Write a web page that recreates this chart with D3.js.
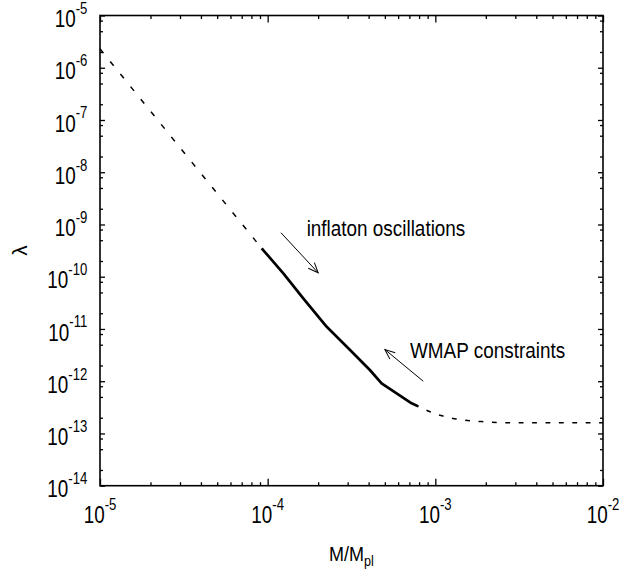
<!DOCTYPE html>
<html><head><meta charset="utf-8">
<script src="https://cdn.jsdelivr.net/npm/d3@7"></script>
<style>body{margin:0;background:#fff}svg{display:block}text{font-family:"Liberation Sans",Arial,sans-serif;fill:#000}</style>
</head><body><svg id="c" width="623" height="576"></svg>
<script>
// ---- data ----
const xDomain = [1e-5, 1e-2];
const yDomain = [1e-14, 1e-5];
const xTickExps = [-5, -4, -3, -2];
const yTickExps = [-14, -13, -12, -11, -10, -9, -8, -7, -6, -5];
const xMinorMult = [2, 3, 4, 5, 6, 7, 8, 9];
const yMinorMult = [2, 5, 8];
// dashed branch at small M
const massLow = [1e-5, 3.14e-5, 9.21e-5];
const lambdaLow = [2.3e-6, 2.47e-8, 3.5e-10];
// solid branch (WMAP constrained)
const massMid = [9.21e-5, 1.24e-4, 1.63e-4, 2.25e-4, 3.10e-4, 4.07e-4, 4.78e-4, 7.22e-4, 7.91e-4];
const lambdaMid = [3.5e-10, 1.16e-10, 3.86e-11, 1.10e-11, 3.95e-12, 1.64e-12, 9.1e-13, 3.78e-13, 3.3e-13];
// dashed branch at large M
const massHigh = [7.91e-4, 9.29e-4, 1.11e-3, 1.34e-3, 1.61e-3, 1.93e-3, 2.79e-3, 5e-3, 1e-2];
const lambdaHigh = [3.3e-13, 2.61e-13, 2.15e-13, 1.89e-13, 1.75e-13, 1.68e-13, 1.60e-13, 1.60e-13, 1.60e-13];
// annotations (data coordinates)
const annTexts = ["inflaton oscillations", "WMAP constraints"];
const annTextPos = [[1.708e-4, 6.09e-10], [7.06e-4, 2.74e-12]];
const annArrowFrom = [[1.2e-4, 6.95e-10], [8.47e-4, 1.0e-12]];
const annArrowTo = [[2.0e-4, 1.19e-10], [5.0e-4, 4.04e-12]];

// ---- chart ----
const svg = d3.select("#c");
const L = 100, R = 603, T = 15.5, B = 485.7;
const x = d3.scaleLog().domain(xDomain).range([L, R]);
const y = d3.scaleLog().domain(yDomain).range([B, T]);

const xMaj = xTickExps.map(e => Math.pow(10, e));
const yMaj = yTickExps.map(e => Math.pow(10, e));
const xMin = [];
xTickExps.slice(0, -1).forEach(e => xMinorMult.forEach(m => xMin.push(m * Math.pow(10, e))));
const yMin = [];
yTickExps.slice(0, -1).forEach(e => yMinorMult.forEach(m => yMin.push(m * Math.pow(10, e))));

function axis(gen, tv, size, tr) {
  const g = svg.append("g").attr("transform", tr)
    .call(gen.tickValues(tv).tickSize(size).tickFormat(""));
  g.select(".domain").remove();
  g.selectAll("line").attr("stroke", "#000").attr("stroke-width", 1.3);
}
axis(d3.axisBottom(x), xMaj, -7, `translate(0,${B})`);
axis(d3.axisBottom(x), xMin, -3.5, `translate(0,${B})`);
axis(d3.axisTop(x), xMaj, -7, `translate(0,${T})`);
axis(d3.axisTop(x), xMin, -3.5, `translate(0,${T})`);
axis(d3.axisLeft(y), yMaj, -5, `translate(${L},0)`);
axis(d3.axisLeft(y), yMin, -3, `translate(${L},0)`);
axis(d3.axisRight(y), yMaj, -5, `translate(${R},0)`);
axis(d3.axisRight(y), yMin, -3, `translate(${R},0)`);

svg.append("rect").attr("x", L).attr("y", T).attr("width", R - L).attr("height", B - T)
  .attr("fill", "none").attr("stroke", "#000").attr("stroke-width", 1.6);

// tick labels
function powLabel(g, e, anchor) {
  const t = g.append("text").attr("text-anchor", anchor);
  t.append("tspan").attr("font-size", 23).text("10");
  t.append("tspan").attr("font-size", 16).attr("dy", -13.3).text(String(e));
}
xTickExps.forEach(e => {
  const g = svg.append("g").attr("transform", `translate(${x(Math.pow(10, e))},${B + 37.6}) scale(0.82,1)`);
  powLabel(g, e, "middle");
});
yTickExps.forEach(e => {
  const g = svg.append("g").attr("transform", `translate(${L - 12.7},${y(Math.pow(10, e)) + 11.6}) scale(0.82,1)`);
  powLabel(g, e, "end");
});

// axis titles
const xt = svg.append("g").attr("transform", `translate(${(L + R) / 2},561) scale(0.9,1)`)
  .append("text").attr("text-anchor", "middle");
xt.append("tspan").attr("font-size", 20).text("M/M");
xt.append("tspan").attr("font-size", 14).attr("dy", 4.5).text("pl");
svg.append("text").attr("transform", `translate(26.5,${(T + B) / 2}) rotate(-90)`)
  .attr("text-anchor", "middle").attr("font-size", 21).text("λ");

// curves
const line = d3.line().x(d => x(d[0])).y(d => y(d[1]));
const zip = (a, b) => a.map((v, i) => [v, b[i]]);
const plot = svg.append("g");
plot.append("path").datum(zip(massLow, lambdaLow)).attr("d", line)
  .attr("fill", "none").attr("stroke", "#000").attr("stroke-width", 1.5).attr("stroke-dasharray", "5.5,10.7");
plot.append("path").datum(zip(massMid, lambdaMid)).attr("d", line)
  .attr("fill", "none").attr("stroke", "#000").attr("stroke-width", 2.7).attr("stroke-linejoin", "round");
plot.append("path").datum(zip(massHigh, lambdaHigh)).attr("d", line.curve(d3.curveMonotoneX))
  .attr("fill", "none").attr("stroke", "#000").attr("stroke-width", 1.5).attr("stroke-dasharray", "4.8,8.6").attr("stroke-dashoffset", -9);

// annotations
svg.append("defs").append("marker").attr("id", "ah").attr("markerUnits", "userSpaceOnUse")
  .attr("markerWidth", 14).attr("markerHeight", 14).attr("refX", 0).attr("refY", 0)
  .attr("viewBox", "-12 -7 14 14").attr("orient", "auto")
  .append("path").attr("d", "M-10,-4.2L0,0L-10,4.2").attr("fill", "none").attr("stroke", "#000").attr("stroke-width", 1);
annTexts.forEach((s, i) => {
  svg.append("line")
    .attr("x1", x(annArrowFrom[i][0])).attr("y1", y(annArrowFrom[i][1]))
    .attr("x2", x(annArrowTo[i][0])).attr("y2", y(annArrowTo[i][1]))
    .attr("stroke", "#000").attr("stroke-width", 1).attr("marker-end", "url(#ah)");
  svg.append("g").attr("transform", `translate(${x(annTextPos[i][0])},${y(annTextPos[i][1])}) scale(0.86,1)`)
    .append("text").attr("font-size", 22).text(s);
});
</script></body></html>
